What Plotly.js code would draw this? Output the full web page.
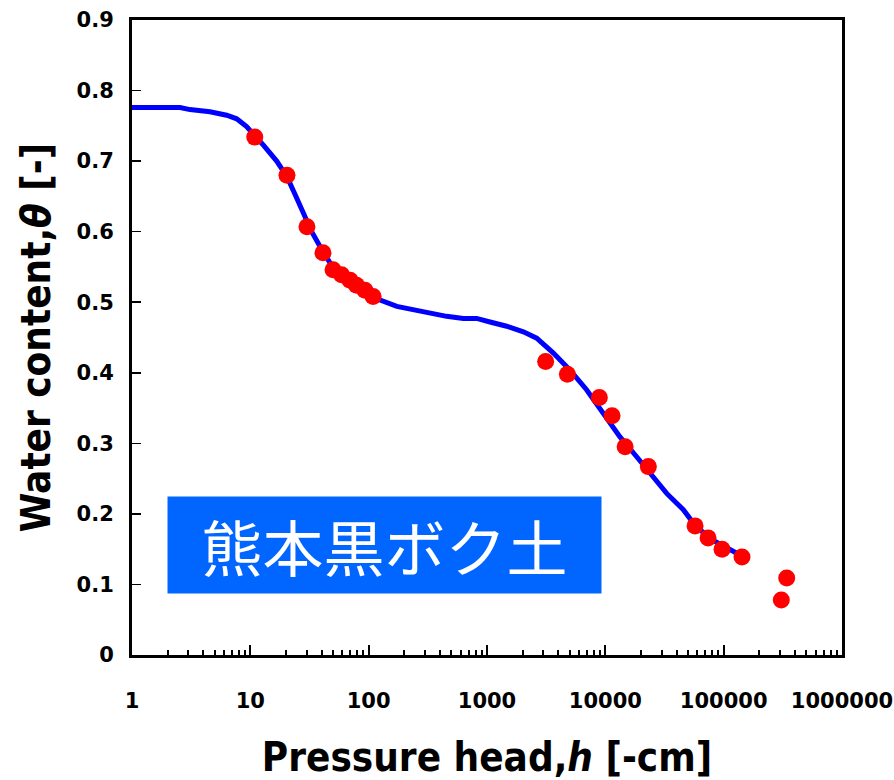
<!DOCTYPE html>
<html>
<head>
<meta charset="utf-8">
<script src="https://cdn.plot.ly/plotly-3.0.1.min.js"></script>
<style>html,body{margin:0;padding:0;background:#fff;}#chart{width:894px;height:780px;}</style>
</head>
<body>
<div id="chart"></div>
<script>
// Fitted retention curve (pressure head h [-cm], water content theta)
const hCurve = [1, 2, 2.55, 3.09, 4.56, 6.31, 7.67, 9.3, 10.9, 13, 16.7, 20.4, 24, 28, 33, 41, 50, 65, 96, 125, 173, 238, 330, 456, 631, 818, 1060, 1466, 2030, 2630, 3640, 5010, 6940, 9610, 13300, 18400, 25400, 33000, 45600, 57300, 76700, 99400, 129000, 140000];
const thetaCurve = [0.776, 0.776, 0.776, 0.773, 0.770, 0.765, 0.760, 0.749, 0.737, 0.722, 0.700, 0.678, 0.652, 0.625, 0.600, 0.572, 0.549, 0.532, 0.515, 0.503, 0.494, 0.489, 0.484, 0.480, 0.477, 0.477, 0.472, 0.466, 0.458, 0.449, 0.428, 0.404, 0.376, 0.343, 0.309, 0.281, 0.253, 0.229, 0.206, 0.184, 0.165, 0.154, 0.144, 0.141];

// Measured points
const hMeasured = [10.9, 20.4, 30.1, 41.1, 50, 59, 69.6, 79, 93, 109, 3130, 4780, 8900, 11400, 14700, 23100, 57300, 73800, 96900, 142900, 307000, 341000];
const thetaMeasured = [0.734, 0.680, 0.607, 0.570, 0.546, 0.539, 0.531, 0.524, 0.517, 0.508, 0.416, 0.398, 0.365, 0.339, 0.295, 0.267, 0.183, 0.166, 0.150, 0.139, 0.078, 0.109];

// Axis tick labels
const xTickVals = [1, 10, 100, 1000, 10000, 100000, 1000000];
const xTickText = ["1", "10", "100", "1000", "10000", "100000", "1000000"];
const yTickVals = [0, 0.1, 0.2, 0.3, 0.4, 0.5, 0.6, 0.7, 0.8, 0.9];
const yTickText = ["0", "0.1", "0.2", "0.3", "0.4", "0.5", "0.6", "0.7", "0.8", "0.9"];

const soilLabel = "熊本黒ボク土";

const tickFont = {family: "DejaVu Sans, sans-serif", size: 21, color: "#000", weight: "bold"};
const titleFont = {family: "DejaVu Sans Condensed, sans-serif", size: 40, color: "#000", weight: "bold"};

const traces = [
  {x: hCurve, y: thetaCurve, type: "scatter", mode: "lines",
   line: {color: "#0000FF", width: 5}, hoverinfo: "skip"},
  {x: hMeasured, y: thetaMeasured, type: "scatter", mode: "markers",
   marker: {color: "#FF0000", size: 17, line: {width: 0}}}
];

const layout = {
  width: 894, height: 780,
  margin: {l: 132, r: 52, t: 20, b: 125},
  paper_bgcolor: "#fff", plot_bgcolor: "#fff",
  showlegend: false,
  xaxis: {
    type: "log", range: [0, 6],
    tickmode: "array", tickvals: xTickVals, ticktext: xTickText,
    ticks: "inside", ticklen: 10, tickwidth: 2, tickcolor: "#000",
    minor: {ticks: "inside", ticklen: 5, tickwidth: 2, tickcolor: "#000", dtick: "D1", showgrid: false},
    showgrid: false, zeroline: false,
    showline: true, linewidth: 3, linecolor: "#000", mirror: true,
    tickfont: tickFont, ticklabelstandoff: 25, ticklabeloverflow: "allow",
    title: {text: "Pressure head,<i>h</i> [-cm]", font: titleFont, standoff: 32}
  },
  yaxis: {
    range: [0, 0.9],
    tickmode: "array", tickvals: yTickVals, ticktext: yTickText,
    ticks: "inside", ticklen: 9, tickwidth: 1.5, tickcolor: "#000",
    showgrid: false, zeroline: false,
    showline: true, linewidth: 3, linecolor: "#000", mirror: true,
    tickfont: tickFont, ticklabelstandoff: 11, ticklabeloverflow: "allow",
    title: {text: "Water content,<i>θ</i> [-]", font: titleFont, standoff: 14}
  },
  annotations: [{
    text: soilLabel, xref: "paper", yref: "paper",
    x: 0.3556, y: 0.1732, xanchor: "center", yanchor: "middle",
    showarrow: false, bgcolor: "#0066FF", borderpad: 0,
    width: 433, height: 96,
    font: {family: "Noto Sans CJK JP, sans-serif", size: 61, color: "#fff"}
  }]
};

Plotly.newPlot("chart", traces, layout, {displayModeBar: false, staticPlot: true});
</script>
</body>
</html>
